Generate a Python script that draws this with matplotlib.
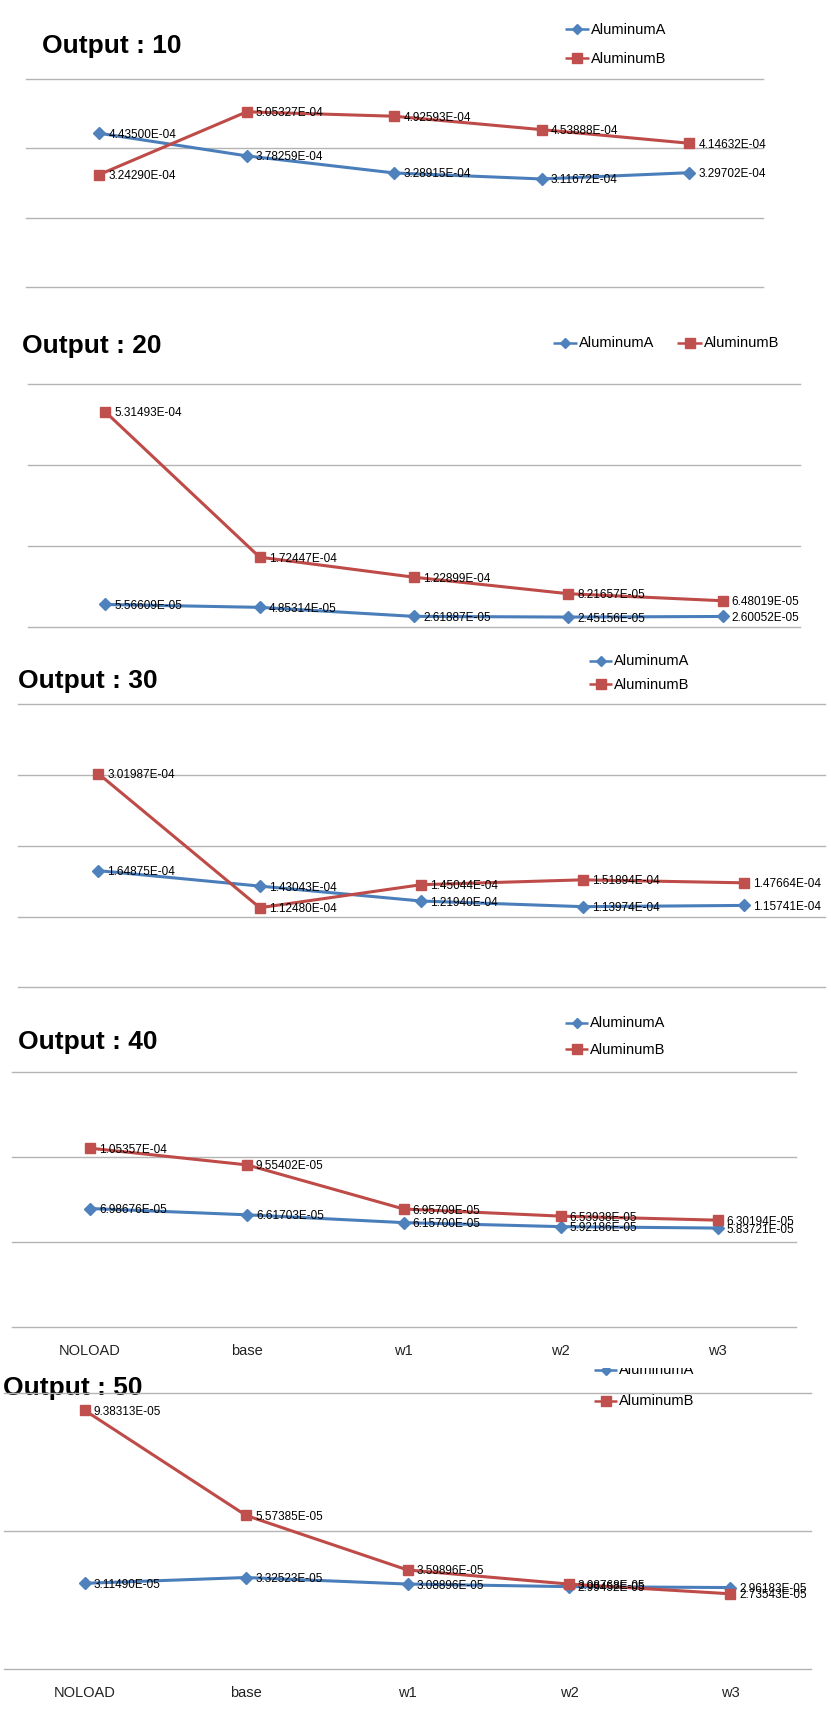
import matplotlib
matplotlib.use("Agg")
import matplotlib.pyplot as plt

plt.rcParams['font.family'] = ['Liberation Sans', 'DejaVu Sans']

W, H = 831, 1718

categories = ['NOLOAD', 'base', 'w1', 'w2', 'w3']
series_names = ['AluminumA', 'AluminumB']
titles = ['Output : 10', 'Output : 20', 'Output : 30', 'Output : 40', 'Output : 50']

out10_a = [4.43500e-4, 3.78259e-4, 3.28915e-4, 3.11672e-4, 3.29702e-4]
out10_b = [3.24290e-4, 5.05327e-4, 4.92593e-4, 4.53888e-4, 4.14632e-4]
out20_a = [5.56609e-5, 4.85314e-5, 2.61887e-5, 2.45156e-5, 2.60052e-5]
out20_b = [5.31493e-4, 1.72447e-4, 1.22899e-4, 8.21657e-5, 6.48019e-5]
out30_a = [1.64875e-4, 1.43043e-4, 1.21940e-4, 1.13974e-4, 1.15741e-4]
out30_b = [3.01987e-4, 1.12480e-4, 1.45044e-4, 1.51894e-4, 1.47664e-4]
out40_a = [6.98676e-5, 6.61703e-5, 6.15700e-5, 5.92186e-5, 5.83721e-5]
out40_b = [1.05357e-4, 9.55402e-5, 6.95709e-5, 6.53938e-5, 6.30194e-5]
out50_a = [3.11490e-5, 3.32523e-5, 3.08896e-5, 2.99452e-5, 2.96183e-5]
out50_b = [9.38313e-5, 5.57385e-5, 3.59896e-5, 3.08768e-5, 2.73543e-5]

yticks10 = [0, 2e-4, 4e-4, 6e-4]
yticks20 = [0, 2e-4, 4e-4, 6e-4]
yticks30 = [0, 1e-4, 2e-4, 3e-4, 4e-4]
yticks40 = [0, 5e-5, 1e-4, 1.5e-4]
yticks50 = [0, 5e-5, 1e-4]

BLUE = '#4A7EBB'
BLUE_M = '#4F81BD'
RED = '#BE4B48'
RED_M = '#C0504D'
GRID = '#B4B4B4'

fig = plt.figure(figsize=(W / 100, H / 100), dpi=100)


def rect(x0, y0, x1, y1):
    return [x0 / W, 1 - y1 / H, (x1 - x0) / W, (y1 - y0) / H]


panels = [
    dict(a=out10_a, b=out10_b, yt=yticks10, title=titles[0], tx=42, ty=53,
         plot=(25.5, 79, 763, 287), bg=(0, 300),
         legend=[(565, 589, 29), (565, 589, 58.3)], xl=False, z=20),
    dict(a=out20_a, b=out20_b, yt=yticks20, title=titles[1], tx=22, ty=353,
         plot=(28, 384, 800, 627), bg=(300, 640),
         legend=[(553, 577, 342.5), (677, 702, 342.5)], xl=False, z=16),
    dict(a=out30_a, b=out30_b, yt=yticks30, title=titles[2], tx=17.5, ty=687.5,
         plot=(17.6, 704.3, 825, 987.3), bg=(640, 1000),
         legend=[(589, 612, 660.7), (589, 612, 684)], xl=False, z=12),
    dict(a=out40_a, b=out40_b, yt=yticks40, title=titles[3], tx=17.5, ty=1049,
         plot=(11.7, 1072.3, 796, 1327.3), bg=(1000, 1368),
         legend=[(565, 588, 1022.7), (565, 588, 1049)], xl=True, z=8),
    dict(a=out50_a, b=out50_b, yt=yticks50, title=titles[4], tx=2.7, ty=1395,
         plot=(4, 1393.3, 811, 1669.3), bg=(1368, 1718),
         legend=[(594, 617, 1370), (594, 617, 1400.7)], xl=True, z=4),
]

for p in panels:
    z = p['z']
    bg = fig.add_axes(rect(0, p['bg'][0], W, p['bg'][1]))
    bg.set_zorder(z)
    bg.set_xlim(0, W)
    bg.set_ylim(p['bg'][1], p['bg'][0])
    bg.axis('off')
    bg.add_patch(plt.Rectangle((0, p['bg'][0]), W, p['bg'][1] - p['bg'][0],
                               facecolor='white', edgecolor='none', zorder=0))
    bg.text(p['tx'], p['ty'], p['title'], fontsize=19, fontweight='bold',
            ha='left', va='baseline', color='black')
    for (lx0, lx1, ly), name, col, mcol, mk, ms in zip(
            p['legend'], series_names, [BLUE, RED], [BLUE_M, RED_M],
            ['D', 's'], [5, 7.5]):
        bg.plot([lx0, lx1], [ly, ly], color=col, lw=1.8, solid_capstyle='butt')
        bg.plot([(lx0 + lx1) / 2], [ly], marker=mk, ms=ms, color=mcol,
                markeredgecolor=mcol, linestyle='none')
        bg.text(lx1 + 2, ly + 0.5, name, fontsize=10.5, ha='left',
                va='center', color='black')

    x0, y0, x1, y1 = p['plot']
    ax = fig.add_axes(rect(x0, y0, x1, y1))
    ax.set_zorder(z + 1)
    ax.patch.set_visible(False)
    ax.set_xlim(-0.5, len(categories) - 0.5)
    ax.set_ylim(p['yt'][0], p['yt'][-1])
    for s in ax.spines.values():
        s.set_visible(False)
    ax.set_yticks([])
    for yv in p['yt']:
        ax.axhline(yv, color=GRID, lw=1.0, clip_on=False, zorder=1)
    xs = list(range(len(categories)))
    ax.plot(xs, p['a'], color=BLUE, lw=2.2, marker='D', ms=6,
            markerfacecolor=BLUE_M, markeredgecolor=BLUE_M, clip_on=False, zorder=3)
    ax.plot(xs, p['b'], color=RED, lw=2.2, marker='s', ms=7,
            markerfacecolor=RED_M, markeredgecolor=RED_M, clip_on=False, zorder=3)
    for vals in (p['a'], p['b']):
        for xi, v in zip(xs, vals):
            ax.annotate(f"{v:.5E}", (xi, v), xytext=(9, -1.5),
                        textcoords='offset pixels', fontsize=8.5,
                        ha='left', va='center', color='black', zorder=4,
                        annotation_clip=False)
    if p['xl']:
        ax.set_xticks(xs)
        ax.set_xticklabels(categories, fontsize=10.5, color='#222222')
        ax.tick_params(axis='x', length=0, pad=12)
    else:
        ax.set_xticks([])

fig.savefig('out.png', dpi=100, facecolor='white')
